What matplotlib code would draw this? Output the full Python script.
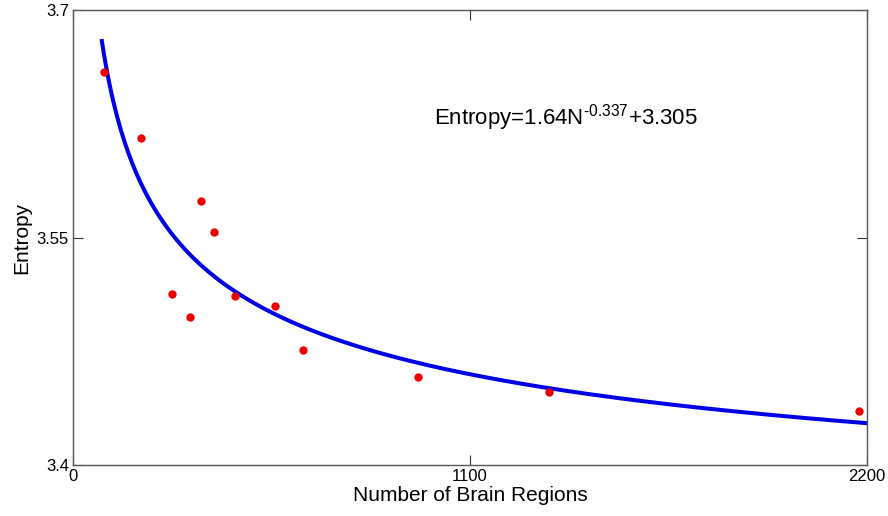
import numpy as np
import matplotlib
matplotlib.use('Agg')
import matplotlib.pyplot as plt

plt.rcParams['font.family'] = ['Liberation Sans', 'DejaVu Sans']
plt.rcParams['mathtext.fontset'] = 'custom'
plt.rcParams['mathtext.rm'] = 'Liberation Sans'
plt.rcParams['mathtext.it'] = 'Liberation Sans'

# datos
regions = [87, 188, 355, 391, 275, 324, 450, 560, 637, 957, 1319, 2179]
entropy = [3.6593, 3.6158, 3.5739, 3.5538, 3.5125, 3.4974, 3.5114, 3.5048,
           3.4756, 3.4582, 3.4481, 3.4356]

# ajuste: Entropy = a*N^b + c
a, b, c = 1.64, -0.337, 3.305
n_fit = np.linspace(80, 2200, 400)
e_fit = a * n_fit**b + c

fig = plt.figure(figsize=(8.88, 5.16), dpi=100)
ax = fig.add_axes([0.0822, 0.0988, 0.8942, 0.8818])

ax.plot(n_fit, e_fit, color='#0000e6', lw=2.9, zorder=2)
ax.plot(regions, entropy, 'o', color='#ee0000', ms=6, mec='none', zorder=3)

ax.text(1000, 3.629, 'Entropy=1.64N$^{\u2010\\mathrm{0.337}}$+3.305', fontsize=16,
        va='center', ha='left')

ax.set_xlim(0, 2200)
ax.set_ylim(3.4, 3.7)
ax.set_xticks([0, 1100, 2200])
ax.set_yticks([3.4, 3.55, 3.7])
ax.set_yticklabels(['3.4', '3.55', '3.7'])
ax.tick_params(direction='in', length=7, top=True, right=True, labelsize=12, pad=3,
               color='#333333')
for s in ax.spines.values():
    s.set_color('#555555')
    s.set_linewidth(1.0)

ax.set_xlabel('Number of Brain Regions', fontsize=15, labelpad=1)
ax.set_ylabel('Entropy', fontsize=15, labelpad=4)

plt.savefig('out.png', dpi=100)
